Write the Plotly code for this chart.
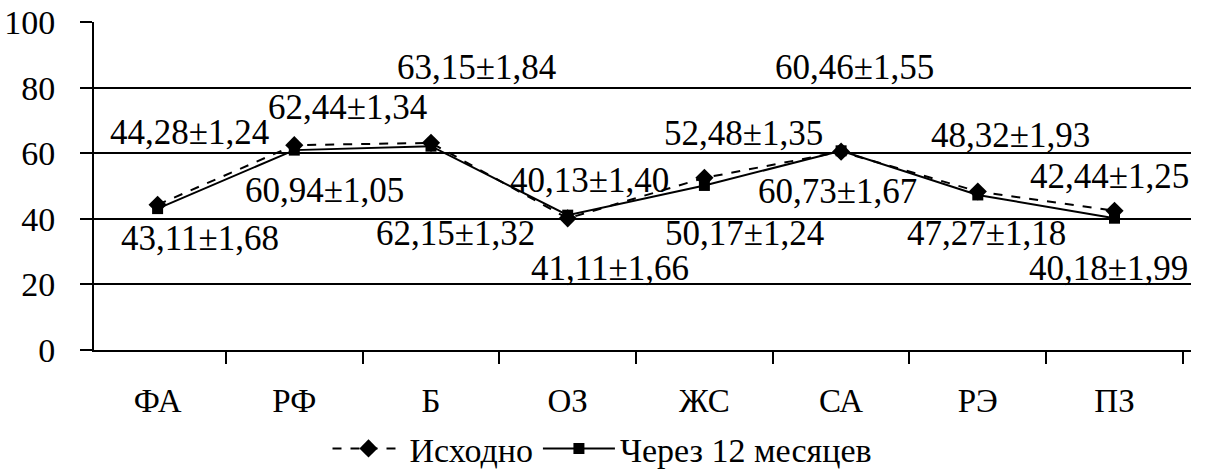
import plotly.graph_objects as go

categories = ["ФА", "РФ", "Б", "ОЗ", "ЖС", "СА", "РЭ", "ПЗ"]

initial_vals = [44.28, 62.44, 63.15, 40.13, 52.48, 60.46, 48.32, 42.44]
initial_err = [1.24, 1.34, 1.84, 1.40, 1.35, 1.55, 1.93, 1.25]

after12_vals = [43.11, 60.94, 62.15, 41.11, 50.17, 60.73, 47.27, 40.18]
after12_err = [1.68, 1.05, 1.32, 1.66, 1.24, 1.67, 1.18, 1.99]

y_ticks = [0, 20, 40, 60, 80, 100]

# pixel offsets of the value labels relative to their points
initial_shift = [(32, 72), (53, 38), (45, 75), (22, 38), (39, 44), (13, 84), (33, 56), (-5, 34)]
after12_shift = [(42, -30), (30, -40), (24, -87), (42, -53), (40, -48), (-4, -41), (9, -39), (-6, -50)]

FONT = "Liberation Serif, Times New Roman, serif"


def fmt(v, e):
    return f"{v:.2f}".replace(".", ",") + "±" + f"{e:.2f}".replace(".", ",")


fig = go.Figure()
fig.add_trace(go.Scatter(
    x=categories, y=initial_vals, name="Исходно", mode="lines+markers",
    line=dict(color="black", width=2, dash="dash"),
    marker=dict(symbol="diamond", size=14, color="black"),
))
fig.add_trace(go.Scatter(
    x=categories, y=after12_vals, name="Через 12 месяцев", mode="lines+markers",
    line=dict(color="black", width=2),
    marker=dict(symbol="square", size=11, color="black"),
))

annotations = []
for vals, errs, shifts in ((initial_vals, initial_err, initial_shift),
                           (after12_vals, after12_err, after12_shift)):
    for c, v, e, (dx, dy) in zip(categories, vals, errs, shifts):
        annotations.append(dict(
            x=c, y=v, xref="x", yref="y", text=fmt(v, e), showarrow=False,
            xshift=dx, yshift=dy, xanchor="center", yanchor="middle",
            font=dict(family=FONT, size=35, color="black"),
        ))

fig.update_layout(
    width=1205, height=470,
    margin=dict(l=94, r=14, t=22, b=120, autoexpand=False),
    paper_bgcolor="white", plot_bgcolor="white",
    font=dict(family=FONT, size=33, color="black"),
    showlegend=True,
    legend=dict(orientation="h", xref="container", x=0.5, xanchor="center",
                yref="container", y=0.045, yanchor="middle",
                font=dict(family=FONT, size=34, color="black"),
                itemwidth=72, tracegroupgap=0),
    annotations=annotations,
)
fig.update_xaxes(
    type="category", showgrid=False, showline=True, linecolor="black", linewidth=2,
    ticks="outside", tickson="boundaries", ticklen=12, tickwidth=2, tickcolor="black",
    ticklabelstandoff=20, tickfont=dict(family=FONT, size=33, color="black"),
)
fig.update_yaxes(
    range=[0, 100], tickvals=y_ticks, showgrid=True, gridcolor="black", gridwidth=2,
    showline=True, linecolor="black", linewidth=2, zeroline=False,
    ticks="outside", ticklen=12, tickwidth=2, tickcolor="black",
    ticklabelstandoff=18, tickfont=dict(family=FONT, size=34, color="black"),
)

fig.write_html("out.html")
